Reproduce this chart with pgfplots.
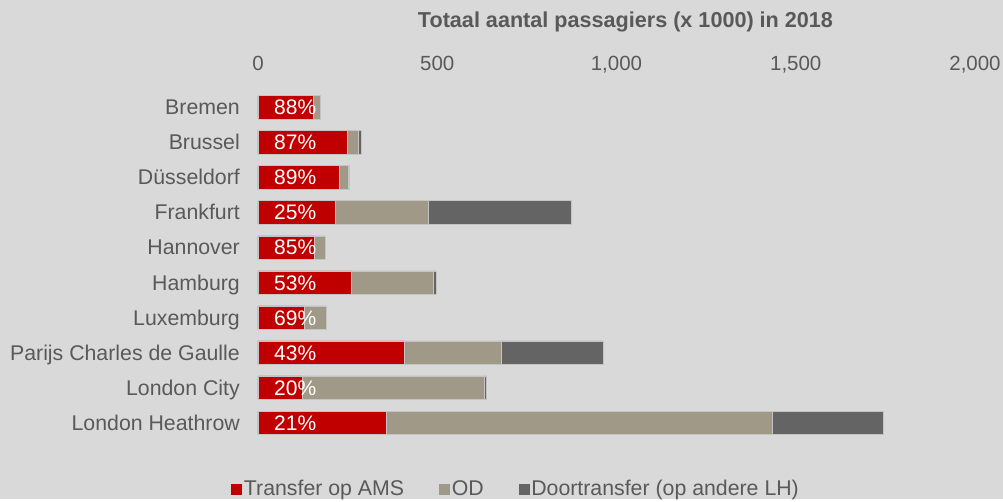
\documentclass[border=0pt]{standalone}
\usepackage{pgfplots}
\pgfplotsset{compat=1.18}
\usepackage{pgfplotstable}
\usepackage{fontspec}
\setmainfont{Liberation Sans}
\definecolor{bg}{HTML}{D9D9D9}
\definecolor{txt}{HTML}{595959}
\definecolor{cred}{HTML}{C00000}
\definecolor{cod}{HTML}{A09987}
\definecolor{cdark}{HTML}{646464}
\definecolor{edge}{HTML}{C4C4C4}

\pgfplotstableread{
y red od dark
0 153 22 0
1 250 30 9
2 228 24 4
3 216 259 399
4 158 30 0
5 260 228 8
6 130 60 0
7 408 272 283
8 123 508 6
9 358 1077 308
}\data

\begin{document}
\begin{tikzpicture}[font=\fontsize{21bp}{25bp}\selectfont]
\fill[bg] (-258bp,-58.8bp) rectangle (745bp,440.2bp);
\begin{axis}[
  at={(0,0)}, anchor=south west,
  scale only axis, width=717bp, height=350.4bp,
  xmin=0, xmax=2000, ymin=-0.5, ymax=9.5,
  y dir=reverse,
  xbar stacked, bar width=23.3bp,
  axis line style={draw=none},
  major tick length=0pt,
  xtick={0,500,1000,1500,2000},
  xticklabel pos=right,
  scaled x ticks=false,
  /pgf/number format/1000 sep={,},
  /pgf/number format/assume math mode=true,
  xticklabel style={text=txt, inner sep=0pt, anchor=base, yshift=19.5bp, font=\fontsize{20.5bp}{24bp}\selectfont},
  ytick={0,...,9},
  yticklabels={Bremen,Brussel,Düsseldorf,Frankfurt,Hannover,Hamburg,Luxemburg,Parijs Charles de Gaulle,London City,London Heathrow},
  yticklabel style={text=txt, inner sep=0pt, anchor=base east, xshift=-18bp, yshift=-7.5bp, font=\fontsize{21.3bp}{25bp}\selectfont},
  legend style={at={(axis description cs:0.36,-0.139)}, anchor=center, draw=none, fill=none,
    legend columns=3, text=txt, font=\fontsize{21.3bp}{25bp}\selectfont,
    /tikz/every even column/.append style={column sep=33bp},
    nodes={inner sep=2bp}},
  legend cell align=left,
]
\addplot[fill=cred, draw=edge, line width=0.6bp,
  legend image code/.code={\fill[cred] (0bp,-5bp) rectangle (10bp,5bp);}]
  table[x=red, y=y] {\data};
\addlegendentry{Transfer op AMS}
\addplot[fill=cod, draw=edge, line width=0.6bp,
  legend image code/.code={\fill[cod] (0bp,-5bp) rectangle (10bp,5bp);}]
  table[x=od, y=y] {\data};
\addlegendentry{OD}
\addplot[fill=cdark, draw=edge, line width=0.6bp,
  legend image code/.code={\fill[cdark] (0bp,-5bp) rectangle (10bp,5bp);}]
  table[x=dark, y=y] {\data};
\addlegendentry{Doortransfer (op andere LH)}
\coordinate (p0) at (axis cs:0,0);
\coordinate (p1) at (axis cs:0,1);
\coordinate (p2) at (axis cs:0,2);
\coordinate (p3) at (axis cs:0,3);
\coordinate (p4) at (axis cs:0,4);
\coordinate (p5) at (axis cs:0,5);
\coordinate (p6) at (axis cs:0,6);
\coordinate (p7) at (axis cs:0,7);
\coordinate (p8) at (axis cs:0,8);
\coordinate (p9) at (axis cs:0,9);
\end{axis}
\begin{scope}[every node/.style={anchor=base west, text=white, inner sep=0pt, xshift=16bp, yshift=-7.5bp, font=\fontsize{21bp}{25bp}\selectfont}]
\node at (p0) {88\%};
\node at (p1) {87\%};
\node at (p2) {89\%};
\node at (p3) {25\%};
\node at (p4) {85\%};
\node at (p5) {53\%};
\node at (p6) {69\%};
\node at (p7) {43\%};
\node at (p8) {20\%};
\node at (p9) {21\%};
\end{scope}
\node[anchor=base, text=txt, inner sep=0pt, font=\bfseries\fontsize{21.6bp}{25bp}\selectfont]
  at (367.5bp, 412.9bp) {Totaal aantal passagiers (x 1000) in 2018};
\end{tikzpicture}
\end{document}
